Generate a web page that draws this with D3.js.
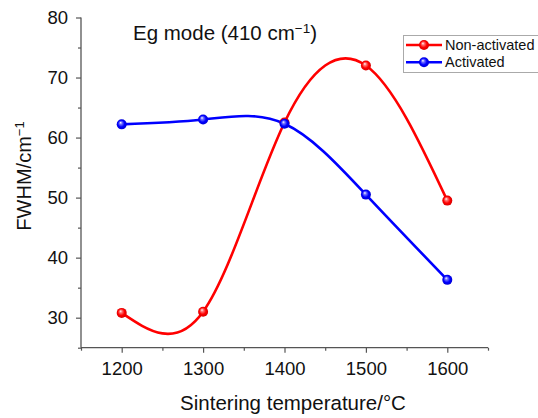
<!DOCTYPE html>
<html><head><meta charset="utf-8">
<script src="https://cdn.jsdelivr.net/npm/d3@7"></script>
<style>
html,body{margin:0;padding:0;background:#fff;}
text{font-family:"Liberation Sans",Arial,Helvetica,sans-serif;fill:#111;}
</style></head>
<body><svg id="chart" width="538" height="418"></svg>
<script>
const temperatures = [1200, 1300, 1400, 1500, 1600];
const nonActivated = [30.8, 31.0, 62.5, 72.0, 49.5];
const activated = [62.2, 63.0, 62.3, 50.5, 36.3];
const seriesNames = ["Non-activated", "Activated"];
const seriesColors = ["#ff0000", "#0000ff"];
const xTicks = [1200, 1300, 1400, 1500, 1600];
const xMinor = [1150, 1250, 1350, 1450, 1550, 1650];
const yTicks = [30, 40, 50, 60, 70, 80];
const yMinor = [25, 35, 45, 55, 65, 75];

const svg = d3.select("#chart");
const x = d3.scaleLinear().domain([1150, 1650]).range([81, 488]);
const y = d3.scaleLinear().domain([25, 80]).range([347.7, 17.5]);

// gradients for spheres
const defs = svg.append("defs");
seriesColors.forEach((c, i) => {
  const g = defs.append("radialGradient").attr("id", "sph" + i)
    .attr("cx", "0.5").attr("cy", "0.5").attr("r", "0.55").attr("fx", "0.38").attr("fy", "0.32");
  g.append("stop").attr("offset", "0").attr("stop-color", "#ffffff");
  g.append("stop").attr("offset", "0.25").attr("stop-color", d3.interpolateRgb("#ffffff", c)(0.55));
  g.append("stop").attr("offset", "0.6").attr("stop-color", c);
  g.append("stop").attr("offset", "1").attr("stop-color", d3.color(c).darker(0.6));
});

const axisColor = "#555";
// y axis
const yAxis = svg.append("g").attr("transform", "translate(81,0)")
  .call(d3.axisLeft(y).tickValues(yTicks).tickSize(5).tickPadding(8).tickFormat(d3.format("d")));
const yMinorAxis = svg.append("g").attr("transform", "translate(81,0)")
  .call(d3.axisLeft(y).tickValues(yMinor).tickSize(3).tickFormat(""));
// x axis
const xAxis = svg.append("g").attr("transform", "translate(0,347.7)")
  .call(d3.axisBottom(x).tickValues(xTicks).tickSize(5).tickPadding(9).tickFormat(d3.format("d")));
const xMinorAxis = svg.append("g").attr("transform", "translate(0,347.7)")
  .call(d3.axisBottom(x).tickValues(xMinor).tickSize(3).tickFormat(""));
[yAxis, yMinorAxis, xAxis, xMinorAxis].forEach(a => {
  a.selectAll("path.domain").attr("stroke", axisColor).attr("stroke-width", 1.3);
  a.selectAll(".tick line").attr("stroke", axisColor).attr("stroke-width", 1.2);
  a.selectAll(".tick text").style("font-size", "18.5px").attr("fill", "#111")
    .style("font-family", '"Liberation Sans",Arial,sans-serif');
});
yMinorAxis.select("path.domain").remove();
xMinorAxis.select("path.domain").remove();
xAxis.select("path.domain").attr("d", `M${x(1150)},0H${x(1650)}`);
yAxis.select("path.domain").attr("d", `M0,${y(25)}V${y(80)}`);

// lines
const line = d3.line().x(d => x(d[0])).y(d => y(d[1])).curve(d3.curveNatural);
const seriesData = [nonActivated, activated];
seriesData.forEach((vals, i) => {
  const pts = temperatures.map((t, j) => [t, vals[j]]);
  svg.append("path").datum(pts).attr("d", line).attr("fill", "none")
    .attr("stroke", seriesColors[i]).attr("stroke-width", 2.6);
});
seriesData.forEach((vals, i) => {
  const pts = temperatures.map((t, j) => [t, vals[j]]);
  svg.selectAll(null).data(pts).enter().append("circle")
    .attr("cx", d => x(d[0])).attr("cy", d => y(d[1])).attr("r", 5)
    .attr("fill", `url(#sph${i})`);
});

// title
const tt = svg.append("text").attr("x", 133).attr("y", 39.5).style("font-size", "20.5px");
tt.append("tspan").text("Eg mode (410 cm");
tt.append("tspan").attr("dy", -7).style("font-size", "13.5px").text("\u22121");
tt.append("tspan").attr("dy", 7).text(")");

// axis titles
svg.append("text").attr("x", 293).attr("y", 410).attr("text-anchor", "middle")
  .style("font-size", "20.5px").text("Sintering temperature/\u00b0C");
const yt = svg.append("text").attr("transform", "translate(31,176) rotate(-90)")
  .attr("text-anchor", "middle").style("font-size", "20px");
yt.append("tspan").text("FWHM/cm");
yt.append("tspan").attr("dy", -7).style("font-size", "13px").text("\u22121");

// legend
const lg = svg.append("g");
lg.append("rect").attr("x", 403.5).attr("y", 35.5).attr("width", 140).attr("height", 37)
  .attr("fill", "#fff").attr("stroke", "#aaa").attr("stroke-width", 1);
seriesNames.forEach((n, i) => {
  const yy = 45 + i * 17.3;
  lg.append("line").attr("x1", 406).attr("x2", 442).attr("y1", yy).attr("y2", yy)
    .attr("stroke", seriesColors[i]).attr("stroke-width", 2.6);
  lg.append("circle").attr("cx", 424).attr("cy", yy).attr("r", 5).attr("fill", `url(#sph${i})`);
  lg.append("text").attr("x", 445).attr("y", yy + 5).style("font-size", "14.5px").text(n);
});
</script></body></html>
